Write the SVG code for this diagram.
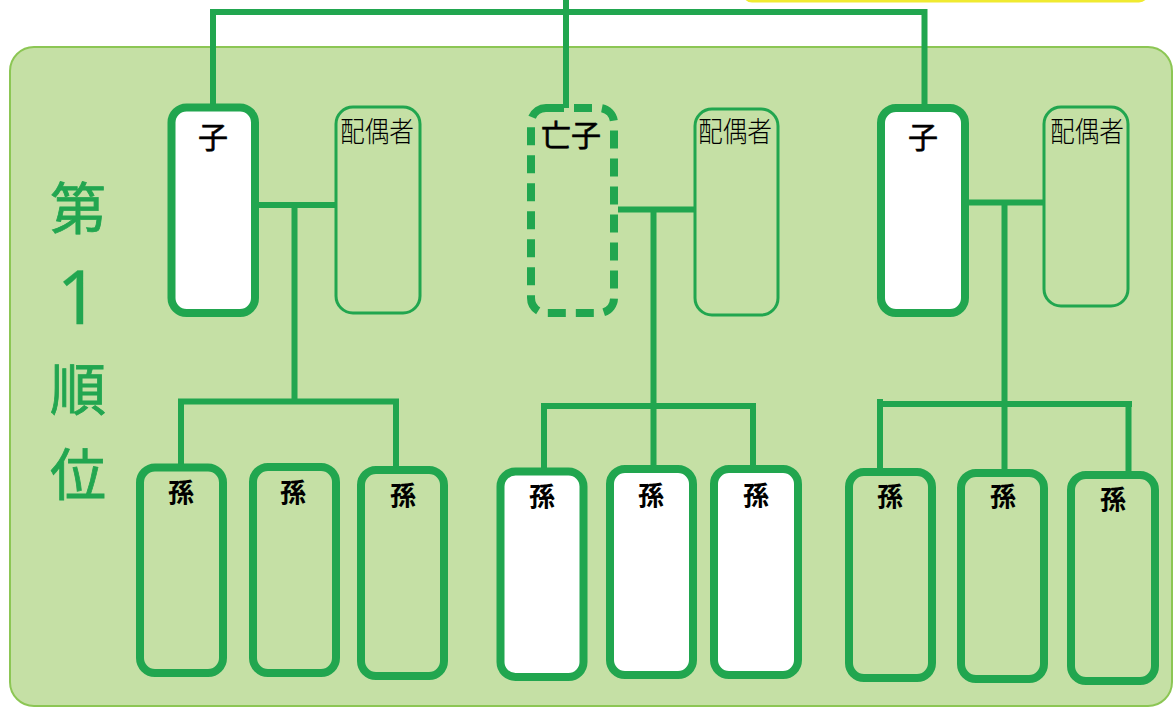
<svg xmlns="http://www.w3.org/2000/svg" width="1176" height="709" viewBox="0 0 1176 709">
<style>
.line{fill:none;stroke:#21a64f;stroke-width:6;stroke-linecap:butt}
.child{fill:#ffffff;stroke:#21a64f;stroke-width:8}
.dead{fill:none;stroke:#21a64f;stroke-width:8;stroke-dasharray:18 10}
.sp{fill:none;stroke:#21a64f;stroke-width:3}
.gc{fill:none;stroke:#21a64f;stroke-width:8}
.gcw{fill:#ffffff;stroke:#21a64f;stroke-width:8}
.t{font-family:"Noto Sans CJK JP","Noto Sans CJK SC",sans-serif;fill:#000;text-anchor:middle}
.tc{font-size:30px;font-weight:400;stroke:#000;stroke-width:0.6}
.ts{font-size:28px;font-weight:300}
.tg{font-size:26px;font-weight:700}
.v{font-family:"Noto Sans CJK JP","Noto Sans CJK SC",sans-serif;fill:#22a650;stroke:#22a650;stroke-width:0.8;text-anchor:middle;font-weight:400;font-size:56px}
.one{font-family:"Noto Sans","Noto Sans CJK JP",sans-serif;font-size:74px;font-weight:400;stroke-width:0.3}
</style>
<rect x="0" y="0" width="1176" height="709" fill="#ffffff"/>
<rect id="header" x="744" y="-40" width="403" height="41" rx="8" fill="#ffffff" stroke="#f0ea30" stroke-width="3"/>
<rect id="panel" x="10" y="47" width="1162" height="659" rx="24" fill="#c5e0a5" stroke="#8cc654" stroke-width="2"/>
<g id="rank">
<text class="v" x="78" y="229">第</text>
<text class="v one" x="78" y="324">1</text>
<text class="v" x="78" y="410">順</text>
<text class="v" x="78" y="495">位</text>
</g>
<g id="connectors">
<path class="line" d="M566 0 V108"/>
<path class="line" d="M213 108 V12 H924.5 V108"/>
<path class="line" d="M259 205 H336 M294.5 205 V401.5 M178 401.5 H399 M181 401.5 V467 M396 401.5 V470"/>
<path class="line" d="M618 209.5 H695 M653.5 209.5 V406 M541 406 H756 M544 406 V471 M653.5 406 V469 M753 406 V469"/>
<path class="line" d="M969 202.5 H1044 M1004.5 202.5 V404 M877 404 H1132 M880 399 V472 M1004.5 404 V473 M1128.5 404 V475"/>
</g>
<g id="child1"><rect class="child" x="171.5" y="107.5" width="83.5" height="205.5" rx="15"/><text class="t tc" x="213" y="148">子</text></g>
<g id="spouse1"><rect class="sp" x="336" y="107" width="84" height="206" rx="17"/><text class="t ts" x="377" y="142" textLength="74" lengthAdjust="spacingAndGlyphs">配偶者</text></g>
<g id="child2"><rect class="dead" x="531" y="108" width="83" height="205" rx="15"/><text class="t tc" x="571" y="146" font-size="28">亡子</text></g>
<g id="spouse2"><rect class="sp" x="695" y="109" width="83" height="206" rx="17"/><text class="t ts" x="735" y="142" textLength="74" lengthAdjust="spacingAndGlyphs">配偶者</text></g>
<g id="child3"><rect class="child" x="881" y="108" width="84" height="205" rx="15"/><text class="t tc" x="923" y="148">子</text></g>
<g id="spouse3"><rect class="sp" x="1044" y="107" width="84" height="199" rx="17"/><text class="t ts" x="1087" y="142" textLength="74" lengthAdjust="spacingAndGlyphs">配偶者</text></g>
<g id="gc1"><rect class="gc" x="140" y="467.5" width="83" height="205.5" rx="15"/><text class="t tg" x="181" y="502">孫</text></g>
<g id="gc2"><rect class="gc" x="253" y="467" width="83" height="206" rx="15"/><text class="t tg" x="293" y="502">孫</text></g>
<g id="gc3"><rect class="gc" x="361" y="470" width="83" height="206" rx="15"/><text class="t tg" x="403" y="505">孫</text></g>
<g id="gc4"><rect class="gcw" x="500.5" y="471.5" width="83" height="205.5" rx="15"/><text class="t tg" x="542" y="506">孫</text></g>
<g id="gc5"><rect class="gcw" x="610" y="469" width="83" height="206" rx="15"/><text class="t tg" x="651" y="505">孫</text></g>
<g id="gc6"><rect class="gcw" x="714" y="469" width="84" height="206" rx="15"/><text class="t tg" x="756" y="505">孫</text></g>
<g id="gc7"><rect class="gc" x="849" y="472" width="83" height="206" rx="15"/><text class="t tg" x="890" y="506">孫</text></g>
<g id="gc8"><rect class="gc" x="961" y="473" width="83" height="206" rx="15"/><text class="t tg" x="1003" y="506">孫</text></g>
<g id="gc9"><rect class="gc" x="1071" y="475" width="84" height="206" rx="15"/><text class="t tg" x="1113" y="509">孫</text></g>
</svg>
